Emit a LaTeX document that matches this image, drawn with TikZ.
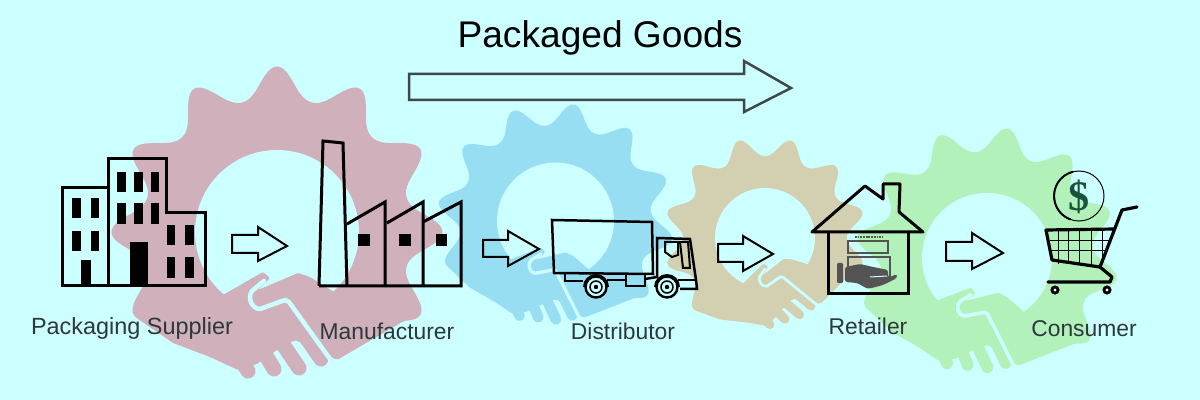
\documentclass[tikz,border=0pt]{standalone}
\usepackage{fontspec}
\setmainfont{Liberation Sans}
\newfontfamily\dollarfont{Liberation Serif}
\definecolor{bgc}{RGB}{204,255,255}
\definecolor{gpink}{RGB}{208,176,186}
\definecolor{gblue}{RGB}{152,222,242}
\definecolor{gkhaki}{RGB}{210,208,176}
\definecolor{ggreen}{RGB}{178,242,186}
\definecolor{arrowgray}{RGB}{62,72,74}
\definecolor{labelc}{RGB}{44,56,60}
\definecolor{handgray}{RGB}{84,84,84}
\definecolor{dollarc}{RGB}{24,84,60}
\tikzset{
  px/.style={x=0.03cm,y=-0.03cm},
  iconline/.style={draw=black,line width=#1*0.03cm,line join=miter},
  iconline/.default=3,
  blockarrow/.style={draw=black,line width=2*0.03cm,line join=miter},
  win/.style={fill=black},
  labeltext/.style={text=labelc,inner sep=0pt,font=\fontsize{#1}{22}\selectfont},
  labeltext/.default=19.5,
}
% centre x, centre y, rotation, hole radius, colour
\newcommand{\geargraphic}[5]{%
  \pgfmathsetmacro{\gs}{#4/82}%
  \pgfmathsetlengthmacro{\gfw}{15*\gs*0.03cm}%
  \pgfmathsetlengthmacro{\gbw}{4.5*\gs*0.03cm}%
  \begin{scope}[shift={(#1,#2)},rotate=#3,scale=\gs]
    \fill[#5,rounded corners=1.5pt] plot[domain=-122:125,samples=125] ({(134+8*(1+cos(12*\x))+4*(1+cos(12*\x))*(1+cos(12*\x)))*sin(\x)},{-(134+8*(1+cos(12*\x))+4*(1+cos(12*\x))*(1+cos(12*\x)))*cos(\x)})
      -- (60,128) -- (45,120) -- (18,108) -- (0,118) -- (-20,132) -- (-39,138) -- (-67,125) -- (-104,111) -- cycle;
    \fill[bgc] (0,0) circle (82);
    \fill[#5,rounded corners=1pt] (-70,72) -- (-14,40) -- (-7,46) -- (-19,58) -- (21,41) -- (33,45) -- (65,65) -- (40,100) -- (-40,100) -- cycle;
    \draw[#5,line width=\gfw,line cap=round] (-40,122) -- (-29,139);
    \draw[#5,line width=\gfw,line cap=round] (-18,112) -- (-3,137);
    \draw[#5,line width=\gfw,line cap=round] (3,108) -- (22,136);
    \draw[#5,line width=\gfw,line cap=round] (24,98) -- (44,127);
    \draw[bgc,line width=\gbw,line cap=round,line join=round] (-13,49) -- (-25,59) .. controls (-30,66) and (-25,77) .. (-17,77) -- (8,68) -- (12,70) -- (53,127);
  \end{scope}%
}
\begin{document}
\begin{tikzpicture}[px]
\useasboundingbox (0,0) rectangle (1200,400);
\fill[bgc] (0,0) rectangle (1200,400);

% gears
\geargraphic{277}{232}{0}{82}{gpink}
\geargraphic{555.5}{221}{-9}{58.5}{gblue}
\geargraphic{765}{238}{15}{50}{gkhaki}
\geargraphic{987}{258}{-9}{65}{ggreen}

% title and big arrow
\node[inner sep=0pt,text=black,font=\fontsize{31.7}{36}\selectfont] (title) at (600,37.5) {Packaged Goods};
\draw[draw=arrowgray,line width=2.5*0.03cm,line join=miter] (409,74) -- (744,74) -- (744,61) -- (791,88) -- (744,112) -- (744,100) -- (409,100) -- cycle;

% building
\draw[iconline] (108,188) -- (62,188) -- (62,286) -- (205,286) -- (205,213) -- (166,213) -- (166,159) -- (108,159) -- (108,286);
\foreach \xa/\xb in {72/81,91/99}{\foreach \ya/\yb in {198/218,231/251}{\fill[win] (\xa,\ya) rectangle (\xb,\yb);}}
\fill[win] (81,260) rectangle (91,285);
\foreach \xa/\xb in {117/126,134/143,151/159}{\foreach \ya/\yb in {172/192,203/224}{\fill[win] (\xa,\ya) rectangle (\xb,\yb);}}
\fill[win] (130,242) rectangle (148,285);
\foreach \xa/\xb in {167/175,185/194}{\foreach \ya/\yb in {225/245,257/278}{\fill[win] (\xa,\ya) rectangle (\xb,\yb);}}

% factory
\draw[iconline] (319,286) -- (323,141) -- (343,143) -- (347,286);
\draw[iconline] (319,286) -- (461,286) -- (461,202) -- (423,222);
\draw[iconline] (423,286) -- (423,202) -- (387,223);
\draw[iconline] (385,286) -- (385,202) -- (347,224);
\fill[win] (358,234) rectangle (370,246);
\fill[win] (399,234) rectangle (411,246);
\fill[win] (436,234) rectangle (447,246);

% small arrows
\draw[blockarrow] (232,235) -- (258,235) -- (258,227) -- (287,246) -- (258,261) -- (258,253) -- (232,253) -- cycle;
\draw[blockarrow] (483,240) -- (508,240) -- (508,231) -- (539,249) -- (508,266) -- (508,257) -- (483,257) -- cycle;
\draw[blockarrow] (718,244) -- (743,244) -- (743,236) -- (773,254) -- (743,271) -- (743,262) -- (718,262) -- cycle;
\draw[blockarrow] (946,242) -- (972,242) -- (972,233) -- (1003,253) -- (972,269) -- (972,261) -- (946,261) -- cycle;

% truck
\draw[iconline=2.5] (552,220) -- (652,222) -- (653,274) -- (554,273) -- cycle;
\draw[iconline=2.5] (565,274) -- (565,281) -- (583,281);
\draw[iconline=2.5] (607,280) -- (626,280);
\draw[iconline=2.5] (626,275) -- (626,286) -- (645,286) -- (645,275);
\draw[iconline=2.5] (645,279) -- (657,277);
\draw[iconline=2.5] (657,278) -- (657,238) -- (690,239) -- (696,280) -- (697,289) -- (680,289);
\draw[iconline=2.5] (678,280) -- (696,280);
\draw[iconline=2] (665,242) -- (678,242) -- (678,255) -- (672,257) -- (665,252) -- cycle;
\draw[iconline=2] (680,242) -- (688,242) -- (690,268) -- (683,268) -- cycle;
\foreach \wx in {596,667}{
  \fill[black] (\wx-13,287) arc (180:360:13) -- cycle;
  \fill[bgc] (\wx,287) circle (10.5);
  \draw[black,line width=2.4*0.03cm] (\wx,287) circle (10.5);
  \draw[black,line width=1.5*0.03cm] (\wx,287) circle (6);
  \fill[black] (\wx,287) circle (2.2);
}

% house
\draw[iconline,line join=round] (812,232) -- (865,186) -- (883,199) -- (883,184) -- (900,184) -- (899,212) -- (923,232) -- cycle;
\draw[iconline] (828,233) -- (828,294) -- (908,294) -- (908,233);
\draw[handgray,line width=1.6*0.03cm,dash pattern=on 1.5pt off 0.8pt] (855,237) -- (882,237);
\draw[handgray,line width=2*0.03cm] (848,241) rectangle (888,253);
\draw[handgray,line width=2*0.03cm] (848,257) rectangle (890,277);
\fill[handgray,rounded corners=1pt] (837,263) rectangle (843,283);
\fill[handgray,rounded corners=2pt] (845,267) -- (860,264) -- (873,267) -- (888,270) -- (888,277) -- (890,277) -- (897,274) -- (897,278) -- (883,285) -- (868,289) -- (857,283) -- (845,282) -- cycle;
\draw[bgc,line width=1*0.03cm] (870,277) -- (887,276);

% cart
\draw[black,line width=1*0.03cm] (1079,196) circle (25);
\draw[black,line width=2*0.03cm] (1073,171.7) arc (256:110:25);
\node[inner sep=0pt,text=dollarc,font=\dollarfont\bfseries\fontsize{36}{42}\selectfont] (dollar) at (1079,197) {\$};
\draw[iconline=1] (1050,241) -- (1111,241);
\draw[iconline=1] (1051,251) -- (1107,251);
\foreach \gx in {1058,1068,1079,1091,1102}{\draw[iconline=1] (\gx,230) -- (\gx,264);}
\draw[iconline=3.2,line join=round,line cap=round] (1137,207) -- (1122,210) -- (1100,267) -- (1052,260) -- (1046,230) -- (1115,229);
\draw[iconline=3.2,line join=round,line cap=round] (1100,267) -- (1112,277) -- (1110,282) -- (1048,282);
\foreach \cx in {1055,1107}{
  \fill[black] (\cx,290) circle (4.6);
  \fill[white] (\cx,290) circle (1.6);
}

% labels
\node[labeltext=20] (supplier) at (132,328) {Packaging Supplier};
\node[labeltext] (manufacturer) at (387,331) {Manufacturer};
\node[labeltext] (distributor) at (623,331) {Distributor};
\node[labeltext] (retailer) at (868,326) {Retailer};
\node[labeltext] (consumer) at (1084,329) {Consumer};
\end{tikzpicture}
\end{document}
